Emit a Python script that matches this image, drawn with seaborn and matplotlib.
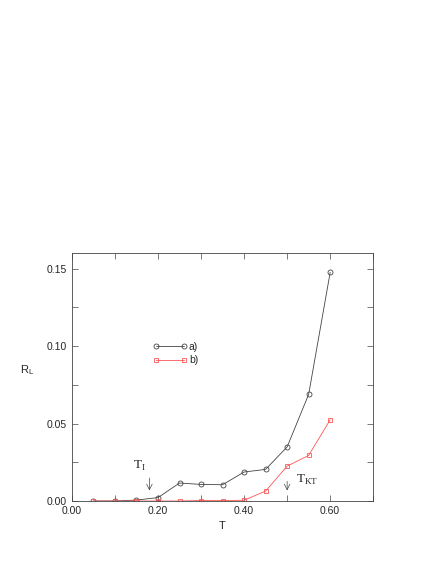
import numpy as np
import pandas as pd
import matplotlib
matplotlib.use('Agg')
import matplotlib.pyplot as plt
import seaborn as sns

T = [0.05, 0.10, 0.15, 0.20, 0.25, 0.30, 0.35, 0.40, 0.45, 0.50, 0.55, 0.60]
r_a = [0.0, 0.0, 0.0006, 0.0022, 0.0116, 0.0107, 0.0105, 0.0187, 0.0204, 0.0349, 0.0688, 0.1475]
r_b = [0.0, 0.0, 0.0, 0.0, 0.0, 0.0003, 0.0003, 0.0005, 0.0064, 0.0225, 0.0294, 0.0524]

sns.set_style('ticks')
plt.rcParams['font.family'] = ['Liberation Sans', 'DejaVu Sans']

df = pd.DataFrame({'T': T, 'a': r_a, 'b': r_b})

fig = plt.figure(figsize=(4.36, 5.64), dpi=100)
ax = fig.add_axes([0.165, 0.1117, 0.691, 0.4397])

sns.lineplot(data=df, x='T', y='a', ax=ax, color='#444444', lw=0.6,
             marker='o', markersize=3.6, markerfacecolor='none',
             markeredgecolor='#444444', markeredgewidth=0.6, label='a)')
sns.lineplot(data=df, x='T', y='b', ax=ax, color='#ff5555', lw=0.6,
             marker='s', markersize=3.3, markerfacecolor='none',
             markeredgecolor='#ff5555', markeredgewidth=0.6, label='b)')

ax.set_xlim(0, 0.7)
ax.set_ylim(0, 0.16)
ax.set_xticks([0.0, 0.2, 0.4, 0.6])
ax.set_xticklabels(['0.00', '0.20', '0.40', '0.60'])
ax.set_xticks([0.1, 0.3, 0.5, 0.7], minor=True)
ax.set_yticks([0.0, 0.05, 0.10, 0.15])
ax.set_yticklabels(['0.00', '0.05', '0.10', '0.15'])
ax.set_yticks([0.025, 0.075, 0.125], minor=True)
ax.tick_params(which='both', direction='in', top=True, right=True,
               labelsize=7.5, width=0.5, length=4, color='#444444')
for s in ax.spines.values():
    s.set_linewidth(0.6)
    s.set_color('#444444')

ax.set_xlabel('T', fontsize=8)
ax.set_ylabel('R$_\\mathregular{L}$', fontsize=8, rotation=0, labelpad=14)

ax.annotate('', xy=(0.18, 0.005), xytext=(0.18, 0.0166),
            arrowprops=dict(arrowstyle='->', lw=0.5, color='#444444'))
ax.text(0.142, 0.0225, 'T$_\\mathregular{I}$', family='Liberation Serif',
        fontsize=9.5, ha='left', va='center')
ax.annotate('', xy=(0.5, 0.005), xytext=(0.5, 0.0145),
            arrowprops=dict(arrowstyle='->', lw=0.5, color='#444444'))
ax.text(0.52, 0.0135, 'T$_\\mathregular{KT}$', family='Liberation Serif',
        fontsize=9.5, ha='left', va='center')

ax.legend(loc='upper left', bbox_to_anchor=(0.236, 0.68), frameon=False,
          numpoints=2, handlelength=3.3, fontsize=7.5, labelspacing=0.35,
          handletextpad=0.2)

fig.savefig('out.png', dpi=100)
